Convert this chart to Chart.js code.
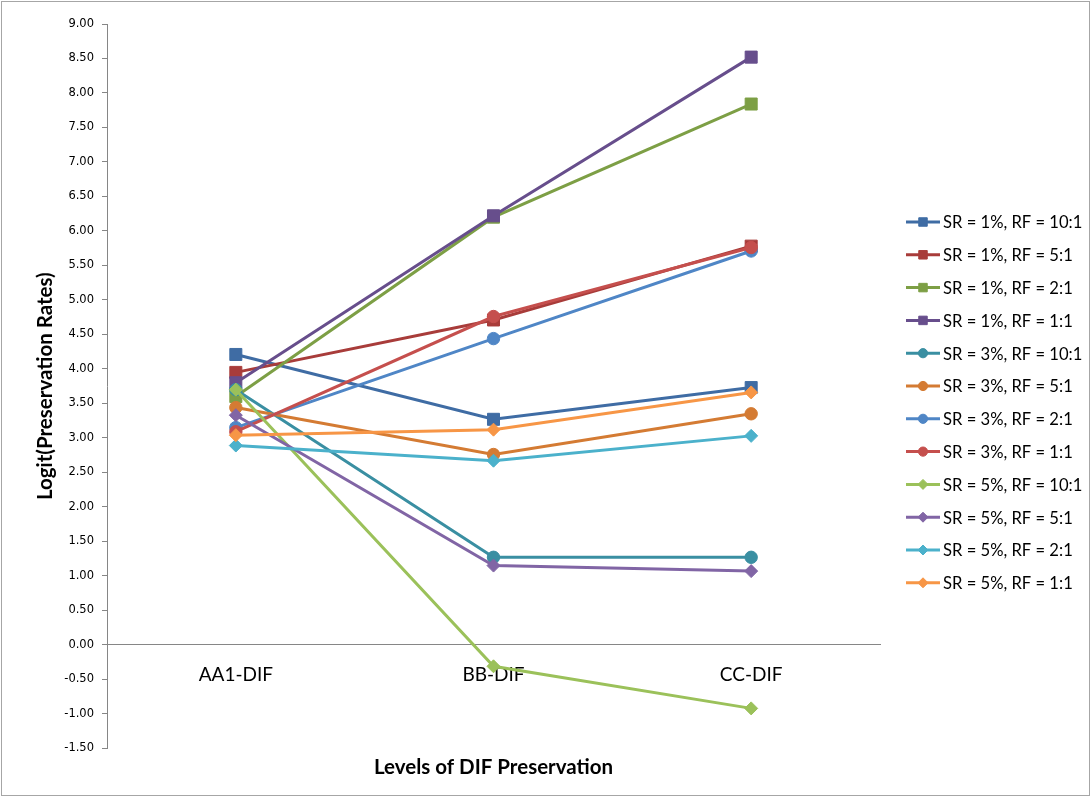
<!DOCTYPE html>
<html>
<head>
<meta charset="utf-8">
<title>Logit Preservation Rates</title>
<script src="https://cdn.jsdelivr.net/npm/chart.js@4.4.1/dist/chart.umd.min.js"></script>
<style>
    body { margin: 0; background: #ffffff; }
</style>
</head>
<body>
<canvas id="dif-chart" width="1092" height="798"></canvas>
<script>
const levels = ['AA1-DIF', 'BB-DIF', 'CC-DIF'];

const sr1_rf10 = [4.21, 3.27, 3.73];
const sr1_rf5 = [3.95, 4.71, 5.78];
const sr1_rf2 = [3.60, 6.20, 7.84];
const sr1_rf1 = [3.80, 6.22, 8.52];
const sr3_rf10 = [3.70, 1.27, 1.27];
const sr3_rf5 = [3.44, 2.76, 3.35];
const sr3_rf2 = [3.15, 4.44, 5.71];
const sr3_rf1 = [3.09, 4.76, 5.76];
const sr5_rf10 = [3.70, -0.31, -0.92];
const sr5_rf5 = [3.33, 1.15, 1.07];
const sr5_rf2 = [2.89, 2.67, 3.03];
const sr5_rf1 = [3.04, 3.12, 3.66];

const series_names = [
    'SR = 1%, RF = 10:1', 'SR = 1%, RF = 5:1', 'SR = 1%, RF = 2:1', 'SR = 1%, RF = 1:1',
    'SR = 3%, RF = 10:1', 'SR = 3%, RF = 5:1', 'SR = 3%, RF = 2:1', 'SR = 3%, RF = 1:1',
    'SR = 5%, RF = 10:1', 'SR = 5%, RF = 5:1', 'SR = 5%, RF = 2:1', 'SR = 5%, RF = 1:1'
];
const series_values = [
    sr1_rf10, sr1_rf5, sr1_rf2, sr1_rf1,
    sr3_rf10, sr3_rf5, sr3_rf2, sr3_rf1,
    sr5_rf10, sr5_rf5, sr5_rf2, sr5_rf1
];
const line_colors = [
    '#3F6CA4', '#A83C3A', '#7D9F45', '#674E8C',
    '#3A8FA2', '#D47B33', '#4F86C6', '#C54F4D',
    '#9BC15A', '#8165A5', '#4BB1CB', '#F79646'
];
const y_ticks = [-1.5, -1, -0.5, 0, 0.5, 1, 1.5, 2, 2.5, 3, 3.5, 4, 4.5, 5, 5.5, 6, 6.5, 7, 7.5, 8, 8.5, 9];

// marker shape by SR group: squares, circles, diamonds
const marker_for = i => i < 4 ? 'rect' : (i < 8 ? 'circle' : 'rectRot');
const radius_for = i => i < 4 ? 8.5 : (i < 8 ? 6.2 : 6.5);
const legend_radius_for = i => i < 4 ? 6 : (i < 8 ? 4.6 : 5);

const datasets = series_values.map((vals, i) => ({
    label: series_names[i],
    data: vals,
    borderColor: line_colors[i],
    backgroundColor: line_colors[i],
    borderWidth: 3,
    pointStyle: marker_for(i),
    pointRadius: radius_for(i),
    pointHoverRadius: radius_for(i),
    pointBorderWidth: 1,
    pointBorderColor: line_colors[i],
    pointBackgroundColor: line_colors[i],
    tension: 0,
    // excel draws later series on top
    order: series_values.length - i
}));

// white background + thin frame around the whole chart
const framePlugin = {
    id: 'frame',
    beforeDraw(chart) {
        const c = chart.ctx;
        c.save();
        c.fillStyle = '#ffffff';
        c.fillRect(0, 0, chart.width, chart.height);
        c.strokeStyle = '#a6a6a6';
        c.lineWidth = 1;
        c.strokeRect(1.5, 1.5, chart.width - 4, chart.height - 4);
        c.restore();
    }
};

// legend with a short line and the marker on it, like excel
const lineLegendPlugin = {
    id: 'lineLegend',
    afterDraw(chart) {
        const c = chart.ctx;
        const x0 = 906, x1 = 940, textX = 943;
        const firstY = 222, step = 32.8;
        c.save();
        chart.data.datasets.forEach((ds, i) => {
            const y = firstY + i * step;
            c.strokeStyle = ds.borderColor;
            c.lineWidth = 3;
            c.beginPath();
            c.moveTo(x0, y);
            c.lineTo(x1, y);
            c.stroke();
            c.fillStyle = ds.backgroundColor;
            c.strokeStyle = ds.borderColor;
            c.lineWidth = 1;
            Chart.helpers.drawPoint(c, {pointStyle: ds.pointStyle, radius: legend_radius_for(i), rotation: 0, borderWidth: 1}, (x0 + x1) / 2, y);
            c.fillStyle = '#000000';
            c.font = '16.6px Lato';
            c.textBaseline = 'middle';
            c.textAlign = 'left';
            c.fillText(ds.label, textX, y + 1);
        });
        c.restore();
    }
};

const ctx = document.getElementById('dif-chart').getContext('2d');
const myChart = new Chart(ctx, {
    type: 'line',
    data: {
        labels: levels,
        datasets: datasets
    },
    plugins: [framePlugin, lineLegendPlugin],
    options: {
        responsive: false,
        animation: false,
        layout: {
            padding: {left: 0, top: 24, right: 212, bottom: 6}
        },
        plugins: {
            legend: {display: false},
            tooltip: {enabled: false}
        },
        scales: {
            x: {
                type: 'category',
                position: {y: 0},
                offset: true,
                grid: {display: false, drawTicks: false},
                border: {display: true, color: '#868686', width: 1},
                ticks: {
                    color: '#000000',
                    padding: 19,
                    font: {family: 'Lato', size: 19}
                },
                afterFit: s => { s.height = 0; }
            },
            xt: {
                type: 'category',
                position: 'bottom',
                grid: {display: false, drawTicks: false},
                border: {display: false},
                ticks: {display: false},
                title: {
                    display: true,
                    text: 'Levels of DIF Preservation',
                    color: '#000000',
                    font: {family: 'Lato', size: 20.5, weight: 'bold'},
                    padding: {top: 7, bottom: 12}
                }
            },
            y: {
                min: -1.5,
                max: 9,
                afterBuildTicks: s => { s.ticks = y_ticks.map(v => ({value: v})); },
                grid: {
                    drawOnChartArea: false,
                    drawTicks: true,
                    tickLength: 5,
                    color: '#868686'
                },
                border: {display: true, color: '#868686', width: 1},
                ticks: {
                    color: '#000000',
                    padding: 8,
                    font: {family: 'DejaVu Sans', size: 11.5},
                    callback: v => Number(v).toFixed(2)
                },
                title: {
                    display: true,
                    text: 'Logit(Preservation Rates)',
                    color: '#000000',
                    font: {family: 'Lato', size: 20.5, weight: 'bold'},
                    padding: {top: 33, bottom: 0}
                },
                afterFit: s => { s.width = 107; }
            }
        }
    }
});
</script>
</body>
</html>
